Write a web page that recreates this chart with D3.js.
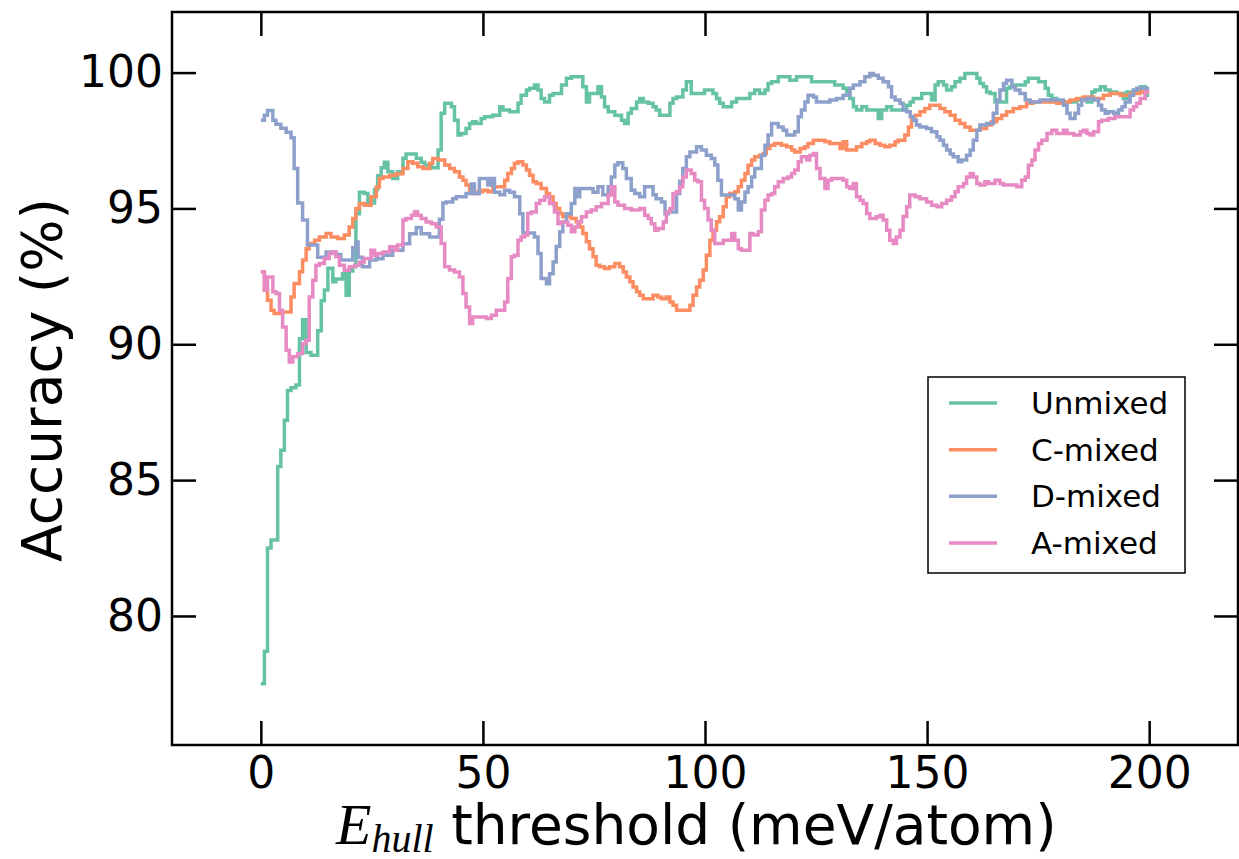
<!DOCTYPE html>
<html>
<head>
<meta charset="utf-8">
<script src="https://cdn.jsdelivr.net/npm/d3@7"></script>
<style>
  html, body { margin: 0; padding: 0; background: #ffffff; }
  svg { display: block; }
</style>
</head>
<body>
<svg id="chart" width="1239" height="859"></svg>
<script>
// ---------------- DATA ----------------
const xTicks = [0, 50, 100, 150, 200];
const yTicks = [80, 85, 90, 95, 100];
const seriesNames = ["Unmixed", "C-mixed", "D-mixed", "A-mixed"];
const seriesColors = ["#66c2a5", "#fc8d62", "#8da0cb", "#e78ac3"];

// [E_hull threshold (meV/atom), accuracy (%)] — step starts
const unmixed = [[0,77.5],[0.8,78.7],[1.5,82.5],[2.3,82.8],[3.8,85.5],[4.5,86.1],[5.3,87.2],[6,88.3],[6.8,88.4],[7.9,88.5],[8.7,90.2],[9.4,90.9],[10.2,89.7],[11.3,89.6],[12.8,90.5],[13.6,91.6],[14.3,92.0],[15.1,92.8],[16.2,92.3],[16.9,92.4],[18.4,92.6],[19.2,91.8],[19.9,92.7],[20.7,92.85],[21.4,94.8],[22.2,95.6],[23.3,95.55],[24.1,95.2],[25.6,95.7],[26.3,96.2],[27.1,96.5],[27.8,96.7],[28.6,96.35],[29.7,96.1],[30.8,96.35],[32,96.85],[32.7,97.0],[35,96.85],[36.1,96.7],[36.9,96.6],[38.4,96.5],[39.9,97.15],[40.6,98.5],[41.4,98.87],[42.9,98.74],[43.6,98.25],[44.4,97.7],[45.1,97.76],[46.2,97.94],[47,98.13],[47.7,98.19],[48.5,98.13],[49.6,98.31],[50.4,98.37],[52.2,98.43],[53.8,98.74],[54.5,98.62],[56,98.56],[57.9,98.87],[58.6,99.17],[59.8,99.36],[60.5,99.42],[61.6,99.54],[62.4,99.36],[63.1,99.05],[63.9,98.92],[65,99.17],[65.8,99.23],[67.7,99.54],[68.8,99.79],[69.9,99.85],[72.5,99.48],[73.3,98.92],[74,99.23],[75.9,99.48],[76.7,99.1],[77.4,98.74],[78.2,98.56],[79.7,98.43],[81.2,98.25],[81.9,98.13],[82.7,98.5],[83.4,98.68],[84.6,98.92],[85.3,99.05],[86.1,98.92],[87.2,98.87],[88.3,98.74],[89,98.62],[89.8,98.43],[92.1,98.87],[92.8,99.05],[93.6,99.1],[95,99.36],[95.8,99.66],[96.9,99.23],[99.9,99.36],[101.8,99.23],[102.6,99.05],[103.3,98.87],[104.1,98.74],[106,98.92],[107.1,99.05],[110.1,99.23],[111.2,99.36],[112.3,99.23],[113.5,99.36],[114.2,99.6],[115,99.66],[116.5,99.85],[119.1,99.72],[120.6,99.85],[124,99.66],[129.2,99.54],[131.1,99.42],[131.9,99.29],[132.6,99.05],[133.4,98.74],[134.1,98.62],[135.3,98.74],[136.4,98.62],[139,98.31],[139.8,98.62],[140.9,98.74],[142,98.62],[145.4,98.8],[146.2,98.92],[146.9,99.05],[148.8,99.23],[151,98.99],[151.8,99.54],[152.5,99.66],[153.7,99.54],[154.4,99.36],[155.5,99.48],[156.3,99.66],[157.4,99.79],[158.5,99.97],[161.2,99.79],[161.9,99.6],[162.7,99.48],[163.4,99.29],[164.2,99.23],[165.3,98.92],[167.9,99.42],[168.7,99.48],[169.8,99.54],[172.1,99.66],[172.8,99.79],[175.1,99.66],[176.6,99.42],[177.3,99.17],[178.1,99.05],[179.2,98.92],[183.7,98.99],[184.8,99.05],[186,98.92],[187.1,99.29],[187.8,99.36],[189,99.48],[190.1,99.36],[191.2,99.29],[192.7,99.23],[194.2,99.05],[195,99.29],[196.5,99.36],[198,99.48],[199.1,99.17],[200,99.17]];

const cMixed = [[0,92.67],[0.8,92.0],[1.5,91.62],[2.3,91.25],[3,91.13],[4.9,91.19],[6.8,91.74],[7.5,92.24],[8.7,92.67],[9.4,93.1],[10.2,93.52],[10.9,93.71],[12.1,93.83],[13.2,93.95],[14.7,94.08],[15.8,93.95],[17.3,93.89],[18.8,94.02],[19.9,94.32],[20.7,94.63],[21.4,95.0],[22.2,95.18],[23.3,95.12],[24.8,95.43],[26,95.79],[26.7,96.1],[27.5,96.16],[29,96.22],[30.5,96.28],[32,96.47],[33.1,96.72],[34.2,96.66],[35.3,96.53],[36.5,96.47],[38,96.66],[38.7,96.84],[39.9,96.78],[41.4,96.6],[42.5,96.47],[43.6,96.35],[44.7,96.16],[45.5,96.04],[46.2,95.86],[47,95.67],[47.7,95.55],[48.9,95.61],[50,95.67],[51.1,95.61],[52.2,95.8],[54.9,96.04],[55.6,96.29],[56.4,96.47],[57.1,96.66],[57.9,96.72],[59,96.6],[59.8,96.41],[60.5,96.22],[61.3,95.98],[62,95.92],[63.1,95.73],[64.3,95.55],[65,95.43],[65.8,95.18],[66.5,95.0],[67.3,94.81],[68,94.69],[69.9,94.63],[71,94.51],[71.8,94.32],[72.5,94.08],[73.3,93.77],[74,93.52],[74.8,93.22],[75.5,92.91],[76.3,92.85],[77.4,92.79],[78.5,92.85],[79.7,92.97],[80.8,92.85],[81.6,92.66],[82.3,92.48],[83.1,92.3],[83.8,92.11],[84.6,91.93],[85.3,91.8],[86.1,91.68],[88.3,91.8],[89.4,91.74],[90.2,91.68],[91.3,91.74],[92.1,91.56],[92.8,91.44],[93.6,91.25],[96.6,91.44],[97.3,91.8],[98.1,92.11],[98.8,92.36],[99.6,92.73],[100.3,93.28],[101.1,93.83],[101.8,94.2],[102.6,94.51],[103.3,94.69],[104.1,95.06],[104.8,95.43],[105.6,95.55],[106.7,95.61],[107.5,95.8],[108.2,96.04],[109,96.29],[109.7,96.59],[110.5,96.78],[111.2,96.9],[112.3,96.96],[113.1,97.02],[113.8,97.21],[114.6,97.33],[115.7,97.39],[117.2,97.33],[118.4,97.27],[119.5,97.15],[120.2,97.08],[121.4,97.21],[122.5,97.27],[123.2,97.39],[124.4,97.51],[127,97.45],[128.1,97.39],[130.4,97.21],[131.1,97.45],[131.9,97.15],[134.1,97.27],[135.3,97.39],[136.4,97.45],[137.1,97.51],[138.3,97.39],[139.4,97.33],[140.5,97.27],[141.6,97.33],[142.8,97.45],[143.5,97.51],[145,97.7],[145.8,98.0],[146.5,98.31],[147.3,98.43],[148.4,98.56],[149.5,98.68],[150.6,98.8],[152.9,98.68],[154,98.56],[155.2,98.43],[156.3,98.25],[157.4,98.13],[158.5,98.0],[159.7,97.88],[161.9,97.94],[163.4,98.07],[164.5,98.19],[165.7,98.31],[166.8,98.43],[167.9,98.56],[169.4,98.68],[170.9,98.74],[172.4,98.87],[173.9,98.92],[179.2,98.87],[180.7,98.92],[182.2,98.99],[183.7,99.05],[185.2,99.1],[187.5,99.05],[189.7,99.17],[191.2,99.23],[193.5,99.17],[195.7,99.23],[198,99.29],[200,99.29]];

const dMixed = [[0,98.25],[0.8,98.43],[1.5,98.6],[2.7,98.25],[3.4,98.1],[4.5,97.95],[5.7,97.8],[6.8,97.6],[7.5,96.47],[8.3,95.2],[9.4,94.57],[10.5,93.65],[12.8,93.2],[14.7,93.4],[16.9,93.3],[18,93.1],[20.7,93.55],[21.4,93.76],[21.9,93.2],[22.9,92.85],[24.5,93.1],[26,93.15],[27.5,93.28],[29.7,93.46],[32,93.7],[33.5,94.07],[35,94.3],[36.1,94.07],[38,93.95],[40.2,94.6],[41,95.2],[41.7,95.24],[43.2,95.36],[44,95.43],[46.2,95.55],[47.4,95.9],[48.1,95.55],[49.2,96.1],[51.1,95.86],[51.9,96.1],[52.6,95.6],[53.8,95.5],[54.9,95.67],[56,95.6],[57.1,95.43],[58.3,94.8],[59,94.1],[61.6,93.95],[62.4,93.34],[63.1,92.42],[64.3,92.23],[65,92.6],[65.8,93.03],[66.5,93.6],[67.3,94.14],[68,94.5],[68.8,94.8],[69.9,95.18],[70.7,95.73],[71,95.43],[71.8,95.73],[74.8,95.6],[75.9,95.8],[77,95.5],[78.2,95.8],[78.9,96.16],[79.7,96.6],[80.4,96.68],[81.5,96.47],[82.3,96.1],[83.4,95.67],[84.2,95.55],[85.3,95.43],[86.4,95.8],[88.3,95.5],[89,95.36],[90.2,95.24],[91,94.8],[91.7,94.87],[93.6,95.55],[94.3,96.0],[95,96.47],[95.8,96.9],[96.6,97.08],[98.1,97.27],[99.2,97.15],[100.3,96.96],[101.4,96.84],[102.2,96.6],[102.9,96.04],[103.7,95.49],[106.7,95.36],[107.5,94.94],[108.2,95.24],[109,95.6],[109.7,95.8],[110.5,96.16],[111.2,96.47],[112.7,96.96],[113.5,97.33],[114.2,97.7],[115,98.13],[116.5,98.0],[117.6,97.88],[118.4,97.7],[120.2,97.82],[121,98.37],[121.7,98.62],[122.5,98.92],[123.2,99.17],[124.4,99.1],[125.1,98.92],[128.1,98.99],[129.6,99.05],[131.1,99.17],[132.6,99.42],[133.4,99.54],[134.9,99.66],[136,99.85],[137.1,99.97],[137.9,99.9],[139,99.79],[140.1,99.66],[141.3,99.48],[142,99.1],[142.8,98.99],[143.9,98.87],[144.6,98.62],[145.4,98.56],[146.2,98.37],[146.9,98.25],[147.6,98.07],[148.4,98.0],[149.9,97.94],[151,97.82],[152.2,97.64],[152.9,97.51],[153.7,97.33],[154.4,97.15],[155.2,97.0],[155.9,96.9],[157,96.72],[157.8,96.78],[158.9,96.96],[159.7,97.15],[160.4,97.51],[161.2,97.88],[161.9,98.07],[163.4,98.13],[164.9,98.5],[165.7,98.99],[166.4,99.36],[167.2,99.6],[167.9,99.72],[169.1,99.48],[169.8,99.36],[170.9,99.23],[172.1,98.99],[173.2,98.92],[175.4,98.99],[180.7,98.8],[181.5,98.5],[182.2,98.31],[183.3,98.5],[184.1,98.8],[184.8,98.99],[186,99.05],[187.5,98.99],[188.6,98.8],[189.3,98.62],[190.1,98.5],[190.8,98.56],[192,98.5],[193.1,98.62],[193.9,98.74],[194.6,98.92],[195.7,99.17],[196.5,99.36],[197.2,99.42],[200,99.42]];

const aMixed = [[0,92.67],[0.8,92.0],[1.5,92.48],[2.7,91.93],[3.4,91.87],[4.2,91.25],[4.9,90.64],[5.7,89.78],[6.4,89.35],[7.2,89.54],[8.3,89.66],[9.4,90.03],[10.2,90.15],[10.9,91.74],[11.7,92.36],[12.4,92.91],[13.2,92.97],[14.3,93.16],[15.4,93.34],[16.2,93.4],[16.9,93.22],[17.7,92.91],[18.8,92.72],[19.9,92.85],[21.1,92.91],[22.2,93.03],[23.3,93.16],[24.8,93.46],[25.6,93.28],[26.3,93.34],[27.5,93.4],[29,93.59],[30.1,93.46],[30.8,93.65],[32,94.57],[32.7,94.63],[33.9,94.75],[34.6,94.88],[35.3,94.75],[36.1,94.63],[37.2,94.5],[38.4,94.44],[39.5,94.32],[40.6,93.71],[41.4,92.85],[42.5,92.73],[43.6,92.66],[44.7,92.48],[45.5,91.87],[46.2,91.37],[47,90.76],[47.7,91.0],[50.8,90.95],[51.9,91.07],[53,91.25],[54.9,91.56],[55.6,92.42],[56.4,93.22],[57.1,93.28],[57.9,93.83],[58.6,93.95],[59.4,94.02],[60.1,94.81],[60.9,94.87],[62,95.18],[62.8,95.3],[63.9,95.43],[65,95.18],[66.1,94.87],[66.9,94.44],[67.7,94.5],[69.1,94.38],[69.9,94.14],[70.7,94.32],[71.4,94.51],[72.2,94.69],[73.3,94.87],[74.4,94.94],[75.5,95.06],[76.7,95.18],[78.2,95.49],[78.9,95.8],[79.7,95.24],[80.4,95.12],[81.9,95.0],[83.4,94.94],[85.3,95.0],[86.4,94.75],[87.2,94.63],[87.9,94.44],[88.7,94.2],[89.4,94.26],[90.6,94.5],[91.3,94.87],[92.1,95.0],[92.8,95.55],[93.6,95.61],[94.3,95.8],[95,96.16],[95.8,96.41],[96.9,96.29],[97.7,96.04],[98.4,95.98],[99.2,95.3],[99.9,95.0],[100.7,94.57],[101.4,94.2],[102.2,93.71],[104.1,93.83],[106,94.08],[106.7,93.83],[107.5,93.52],[108.2,93.46],[110.1,94.08],[110.8,94.02],[112,94.14],[112.7,94.94],[113.5,95.3],[114.2,95.49],[115,95.55],[115.7,95.8],[116.5,95.98],[117.6,96.1],[118.7,96.16],[119.5,96.29],[120.2,96.41],[121,96.72],[121.7,96.9],[122.9,96.78],[123.6,96.96],[124.4,97.02],[125.1,96.47],[125.9,96.1],[127,95.73],[127.7,96.04],[128.5,96.1],[131.1,96.04],[131.9,95.8],[132.6,95.73],[133.4,95.92],[134.1,95.43],[134.9,95.3],[135.6,95.18],[136.4,94.81],[137.1,94.63],[138.6,94.69],[139.4,94.75],[140.1,94.57],[140.9,94.2],[141.6,93.83],[142.4,93.71],[143.1,93.95],[143.9,94.2],[144.6,94.7],[145.4,95.06],[146.1,95.49],[147.3,95.43],[148.4,95.36],[149.9,95.24],[151,95.12],[152.2,95.06],[153.3,95.18],[154.4,95.3],[155.5,95.43],[156.3,95.61],[157,95.8],[158.2,95.92],[158.9,96.16],[159.7,96.29],[160.4,96.16],[161.2,95.92],[161.9,95.86],[163,95.98],[163.8,95.92],[165.3,96.04],[166.4,95.92],[167.2,95.86],[169.1,95.86],[170.2,95.8],[171.3,96.04],[172.1,96.16],[172.8,96.59],[173.6,96.78],[174.3,97.15],[175.1,97.39],[175.8,97.51],[177,97.76],[178.1,97.88],[179.2,97.76],[180.7,97.88],[181.5,97.76],[183,97.7],[184.5,97.82],[185.2,97.88],[186,97.76],[186.7,97.7],[187.5,97.82],[188.6,98.19],[189.3,98.25],[190.8,98.31],[192.3,98.37],[195.7,98.62],[196.5,98.74],[197.2,98.87],[198,99.05],[199.1,99.29],[200,99.29]];

const seriesData = [unmixed, cMixed, dMixed, aMixed];

// ---------------- LAYOUT ----------------
const svg = d3.select("#chart");
const plot = { left: 172, top: 12, right: 1238, bottom: 745 };
const tickFont = "DejaVu Sans, sans-serif";

const x = d3.scaleLinear().domain([-20, 220]).range([plot.left, plot.right]);
const y = d3.scaleLinear().domain([75.25, 102.23]).range([plot.bottom, plot.top]);

// lines
const line = d3.line()
  .x(d => x(d[0]))
  .y(d => y(d[1]))
  .curve(d3.curveStepAfter);

const g = svg.append("g");
seriesData.forEach((s, i) => {
  g.append("path")
    .datum(s)
    .attr("d", line)
    .attr("fill", "none")
    .attr("stroke", seriesColors[i])
    .attr("stroke-width", 3.5)
    .attr("stroke-linejoin", "miter");
});

// axes (ticks inward, all four sides)
const tickLen = 24;
function styleAxis(sel) {
  sel.select(".domain").remove();
  sel.selectAll(".tick line").attr("stroke", "#000").attr("stroke-width", 2.5);
  sel.selectAll(".tick text").attr("fill", "#000")
    .style("font-family", tickFont).style("font-size", "44px");
}
const bottomAxis = svg.append("g").attr("transform", `translate(0,${plot.bottom})`)
  .call(d3.axisBottom(x).tickValues(xTicks).tickSizeInner(-tickLen).tickSizeOuter(0).tickPadding(12).tickFormat(d3.format("d")));
styleAxis(bottomAxis);
const topAxis = svg.append("g").attr("transform", `translate(0,${plot.top})`)
  .call(d3.axisTop(x).tickValues(xTicks).tickSizeInner(-tickLen).tickSizeOuter(0).tickFormat(""));
styleAxis(topAxis);
const leftAxis = svg.append("g").attr("transform", `translate(${plot.left},0)`)
  .call(d3.axisLeft(y).tickValues(yTicks).tickSizeInner(-tickLen).tickSizeOuter(0).tickPadding(9).tickFormat(d3.format("d")));
styleAxis(leftAxis);
const rightAxis = svg.append("g").attr("transform", `translate(${plot.right},0)`)
  .call(d3.axisRight(y).tickValues(yTicks).tickSizeInner(-tickLen).tickSizeOuter(0).tickFormat(""));
styleAxis(rightAxis);

// frame
svg.append("rect")
  .attr("x", plot.left).attr("y", plot.top)
  .attr("width", plot.right - plot.left).attr("height", plot.bottom - plot.top)
  .attr("fill", "none").attr("stroke", "#000").attr("stroke-width", 2.5);

// axis labels
svg.append("text")
  .attr("transform", "translate(61,380) rotate(-90)")
  .attr("text-anchor", "middle")
  .style("font-family", tickFont).style("font-size", "55px")
  .attr("fill", "#000")
  .text("Accuracy (%)");

const xl = svg.append("text")
  .attr("x", 336).attr("y", 844)
  .style("font-family", tickFont).style("font-size", "55px")
  .attr("fill", "#000");
xl.append("tspan")
  .style("font-family", "Liberation Serif, serif").style("font-style", "italic")
  .style("font-size", "58px")
  .text("E");
xl.append("tspan")
  .style("font-family", "Liberation Serif, serif").style("font-style", "italic")
  .style("font-size", "40px").attr("dy", 8)
  .text("hull");
xl.append("tspan").attr("dy", -8).text(" threshold (meV/atom)");

// legend
const legend = svg.append("g");
legend.append("rect")
  .attr("x", 928).attr("y", 377).attr("width", 257).attr("height", 196)
  .attr("fill", "#fff").attr("stroke", "#000").attr("stroke-width", 1.5);
const legendY = d3.scalePoint().domain(seriesNames).range([403, 543]);
seriesNames.forEach((name, i) => {
  const ly = legendY(name);
  legend.append("line")
    .attr("x1", 949).attr("x2", 997).attr("y1", ly).attr("y2", ly)
    .attr("stroke", seriesColors[i]).attr("stroke-width", 3.5);
  legend.append("text")
    .attr("x", 1031).attr("y", ly + 11)
    .style("font-family", tickFont).style("font-size", "31px")
    .attr("fill", "#000")
    .text(name);
});
</script>
</body>
</html>
